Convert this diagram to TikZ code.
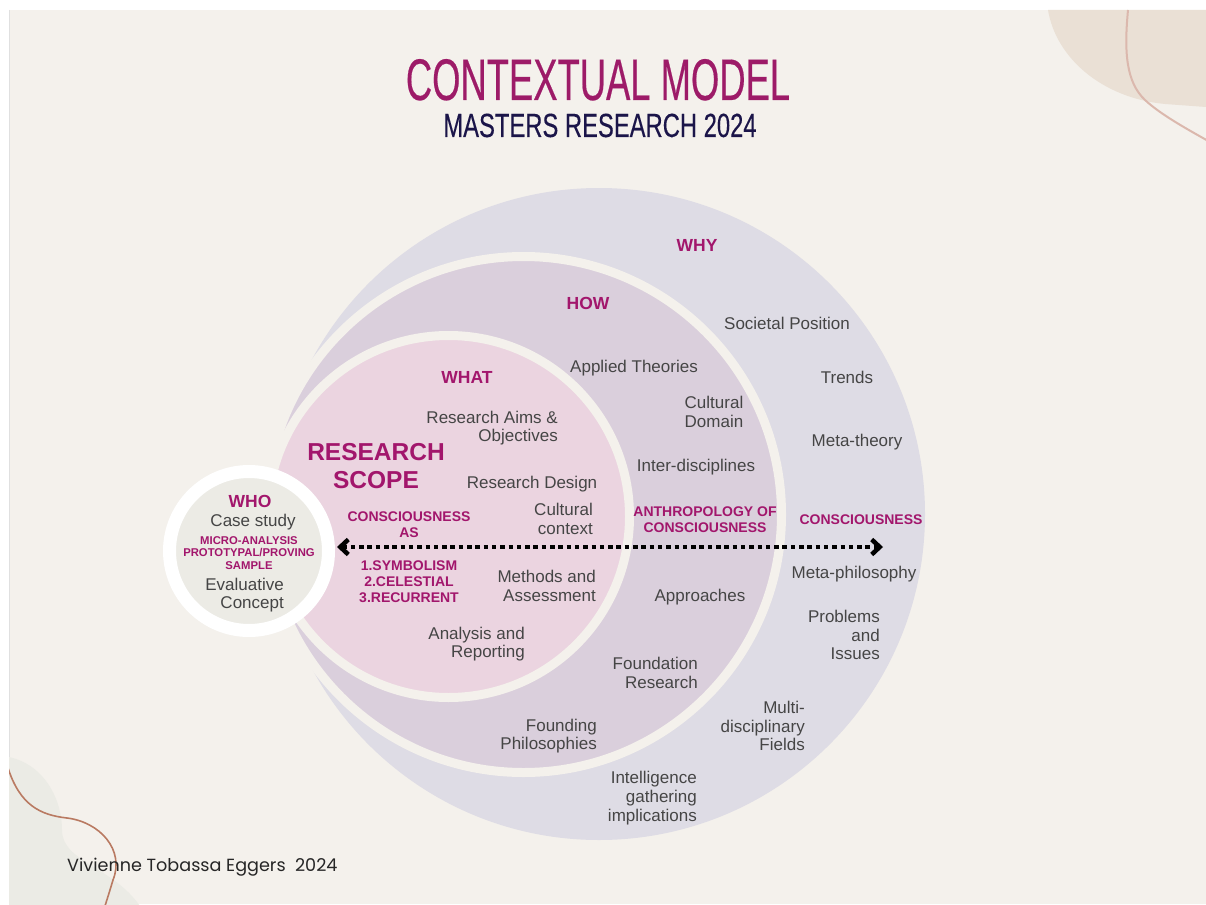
\documentclass[tikz,border=0pt]{standalone}
\usepackage{fontspec}
\setmainfont{Liberation Sans}
\newfontfamily\titlefont[FakeStretch=0.62,FakeBold=0.3]{Liberation Sans}
\newfontfamily\subtitlefont[FakeStretch=0.71,FakeBold=0.25]{Liberation Sans}
\newfontfamily\signfont{Poppins}
\usetikzlibrary{arrows.meta}
\definecolor{page}{HTML}{F4F1EC}
\definecolor{whyfill}{HTML}{DEDCE5}
\definecolor{howfill}{HTML}{DACFDC}
\definecolor{whatfill}{HTML}{EBD4E0}
\definecolor{whofill}{HTML}{ECEBE5}
\definecolor{plum}{HTML}{A2166C}
\definecolor{titleplum}{HTML}{9D1B68}
\definecolor{navy}{HTML}{1B1549}
\definecolor{ink}{HTML}{454545}
\definecolor{sandblob}{HTML}{EAE0D5}
\definecolor{sandline}{HTML}{DBB8AD}
\definecolor{sageblob}{HTML}{EBEBE5}
\definecolor{copper}{HTML}{B97A62}
\begin{document}
\begin{tikzpicture}[x=1pt,y=-1pt,
  body/.style={font=\fontsize{17}{18.7}\selectfont, text=ink, inner sep=0pt, align=center},
  bodyR/.style={body, align=right, anchor=east},
  label/.style={font=\bfseries\fontsize{17.5}{19}\selectfont, text=plum, inner sep=0pt},
  tag/.style={font=\bfseries\fontsize{14}{16}\selectfont, text=plum, inner sep=0pt, align=center},
  scopetext/.style={font=\bfseries\fontsize{24.5}{28}\selectfont, text=plum, inner sep=0pt, align=center},
  ring/.style={draw=page, line width=9},
  dotarrow/.style={line width=4.5, dash pattern=on 4.5pt off 3.8pt,
    {Straight Barb[length=8pt,width=15pt]}-{Straight Barb[length=8pt,width=15pt]}}
]
\useasboundingbox (0,0) rectangle (1206,904);

% page and slide background
\fill[white] (0,0) rectangle (1206,904);
\fill[page] (9,10) rectangle (1206,904);
\draw[black!12, line width=1] (9,10) -- (9,904);

% corner ornaments
\begin{scope}
  \clip (9,10) rectangle (1206,904);
  \fill[sandblob] (1048,10) .. controls (1056,58) and (1102,98) .. (1165,104)
    -- (1206,107) -- (1206,10) -- cycle;
  \draw[sandline, line width=2] (1128,10) .. controls (1124,52) and (1126,82) .. (1145,100)
    .. controls (1160,114) and (1185,128) .. (1210,142);
  \fill[sageblob] (9,757) .. controls (45,765) and (62,800) .. (62,830)
    .. controls (62,862) and (112,866) .. (140,906) -- (9,906) -- cycle;
  \draw[copper, line width=1.6] (8,768) .. controls (20,805) and (40,815) .. (67,818)
    .. controls (100,822) and (125,850) .. (113,880) .. controls (110,890) .. (105,906);
\end{scope}

% title
\node[font=\titlefont\fontsize{58.7}{60}\selectfont, text=titleplum, inner sep=0pt, anchor=base] (title) at (598,100) {CONTEXTUAL MODEL};
\node[font=\subtitlefont\fontsize{33.5}{35}\selectfont, text=navy, inner sep=0pt, anchor=base] (subtitle) at (600,137) {MASTERS RESEARCH 2024};

% nested circles
\fill[whyfill] (599,514) circle[radius=326];
\filldraw[fill=howfill, ring] (523.5,514.5) circle[radius=258];
\filldraw[fill=whatfill, ring] (448.5,516.5) circle[radius=181];
\filldraw[fill=whofill, draw=white, line width=13] (249,551) circle[radius=79.5];

% WHY ring
\node[label] (why) at (697,245) {WHY};
\node[body] (soc) at (787,323) {Societal Position};
\node[body] (trends) at (847,377) {Trends};
\node[body] (metath) at (857,442) {Meta-theory};
\node[tag] (cons) at (861,520) {CONSCIOUSNESS};
\node[body] (metaph) at (854,574) {Meta-philosophy};
\node[bodyR] (problems) at (880,635) {Problems\\and\\Issues};
\node[bodyR] (multi) at (805,726) {Multi-\\disciplinary\\Fields};
\node[bodyR] (intel) at (697,798) {Intelligence\\gathering\\implications};

% HOW ring
\node[label] (how) at (588,303) {HOW};
\node[body] (applied) at (634,368) {Applied Theories};
\node[body] (culdom) at (714,412) {Cultural\\Domain};
\node[body] (inter) at (696,467) {Inter-disciplines};
\node[tag] (anthro) at (705,520) {ANTHROPOLOGY OF\\CONSCIOUSNESS};
\node[body] (approach) at (700,597) {Approaches};
\node[bodyR] (foundres) at (698,673) {Foundation\\Research};
\node[bodyR] (foundphil) at (597,736) {Founding\\Philosophies};

% WHAT circle
\node[label] (what) at (467,377) {WHAT};
\node[bodyR] (aims) at (558,428) {Research Aims \&\\Objectives};
\node[scopetext] (scope) at (376,466) {RESEARCH\\SCOPE};
\node[body] (design) at (532,484) {Research Design};
\node[bodyR] (culctx) at (593,519) {Cultural\\context};
\node[tag] (consas) at (409,525) {CONSCIOUSNESS\\AS};
\node[tag] (list) at (409,582) {1.SYMBOLISM\\2.CELESTIAL\\3.RECURRENT};
\node[bodyR] (methods) at (596,586) {Methods and\\Assessment};
\node[bodyR] (analysis) at (525,644) {Analysis and\\Reporting};

% WHO circle
\node[label] (who) at (250,501) {WHO};
\node[body] (case) at (253,522) {Case study};
\node[tag, font=\bfseries\fontsize{11.3}{12.8}\selectfont] (micro) at (249,553) {MICRO-ANALYSIS\\PROTOTYPAL/PROVING\\SAMPLE};
\node[bodyR] (evalc) at (284,595) {Evaluative\\Concept};

% dotted two-way arrow
\coordinate (arrL) at (337,547);
\coordinate (arrR) at (883,547);
\draw[dotarrow] (arrL) -- (arrR);

% signature
\node[font=\signfont\fontsize{17.6}{19}\selectfont, text=black!85, inner sep=0pt, anchor=west] (sign) at (67,867) {Vivienne Tobassa Eggers\ \ 2024};
\end{tikzpicture}
\end{document}
